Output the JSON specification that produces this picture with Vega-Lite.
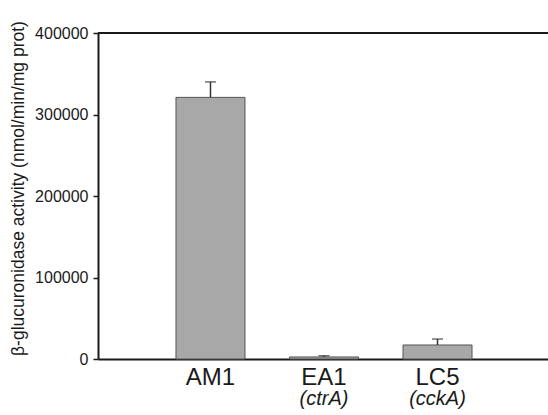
{
  "$schema": "https://vega.github.io/schema/vega-lite/v6.json",
  "width": 452,
  "height": 326,
  "autosize": "none",
  "padding": {"left": 98, "top": 33, "right": 0, "bottom": 56},
  "config": {
    "view": {"stroke": null},
    "font": "Liberation Sans",
    "axis": {"labelColor": "#1a1a1a", "titleColor": "#1a1a1a", "domainColor": "#1a1a1a", "tickColor": "#1a1a1a", "grid": false}
  },
  "data": {
    "values": [
      {"strain": "AM1", "gene": "", "activity": 321000, "upper": 340000},
      {"strain": "EA1", "gene": "(ctrA)", "activity": 2500, "upper": 4000},
      {"strain": "LC5", "gene": "(cckA)", "activity": 17200, "upper": 24500}
    ]
  },
  "layer": [
    {
      "mark": {"type": "bar", "fill": "#a8a8a8", "stroke": "#555", "strokeWidth": 1},
      "encoding": {
        "x": {
          "field": "strain",
          "type": "nominal",
          "sort": null,
          "scale": {"paddingInner": 0.392, "paddingOuter": 0.687},
          "axis": {
            "title": null,
            "labelAngle": 0,
            "labelFontSize": 24,
            "labelPadding": 6,
            "ticks": false,
            "domainWidth": 2
          }
        },
        "y": {
          "field": "activity",
          "type": "quantitative",
          "scale": {"domain": [0, 400000], "nice": false},
          "axis": {
            "title": "β-glucuronidase activity (nmol/min/mg prot)",
            "titleFontSize": 17.5,
            "titleFontWeight": "normal",
            "titlePadding": 7,
            "titleY": 155,
            "values": [0, 100000, 200000, 300000, 400000],
            "format": "d",
            "labelFontSize": 16,
            "labelPadding": 5,
            "tickSize": 5,
            "tickWidth": 1.5,
            "domainWidth": 2
          }
        }
      }
    },
    {
      "mark": {"type": "rule", "color": "#333", "strokeWidth": 1.5},
      "encoding": {
        "x": {"field": "strain", "type": "nominal", "sort": null},
        "y": {"field": "activity", "type": "quantitative"},
        "y2": {"field": "upper"}
      }
    },
    {
      "mark": {"type": "tick", "color": "#333", "thickness": 1.5, "size": 11},
      "encoding": {
        "x": {"field": "strain", "type": "nominal", "sort": null},
        "y": {"field": "upper", "type": "quantitative"}
      }
    },
    {
      "mark": {"type": "text", "fontSize": 20, "fontStyle": "italic", "color": "#1a1a1a", "baseline": "middle"},
      "encoding": {
        "x": {"field": "strain", "type": "nominal", "sort": null},
        "y": {"datum": -49000, "type": "quantitative"},
        "text": {"field": "gene"}
      }
    },
    {
      "mark": {"type": "rule", "color": "#1a1a1a", "strokeWidth": 2},
      "encoding": {
        "y": {"datum": 400000, "type": "quantitative"}
      }
    }
  ]
}
